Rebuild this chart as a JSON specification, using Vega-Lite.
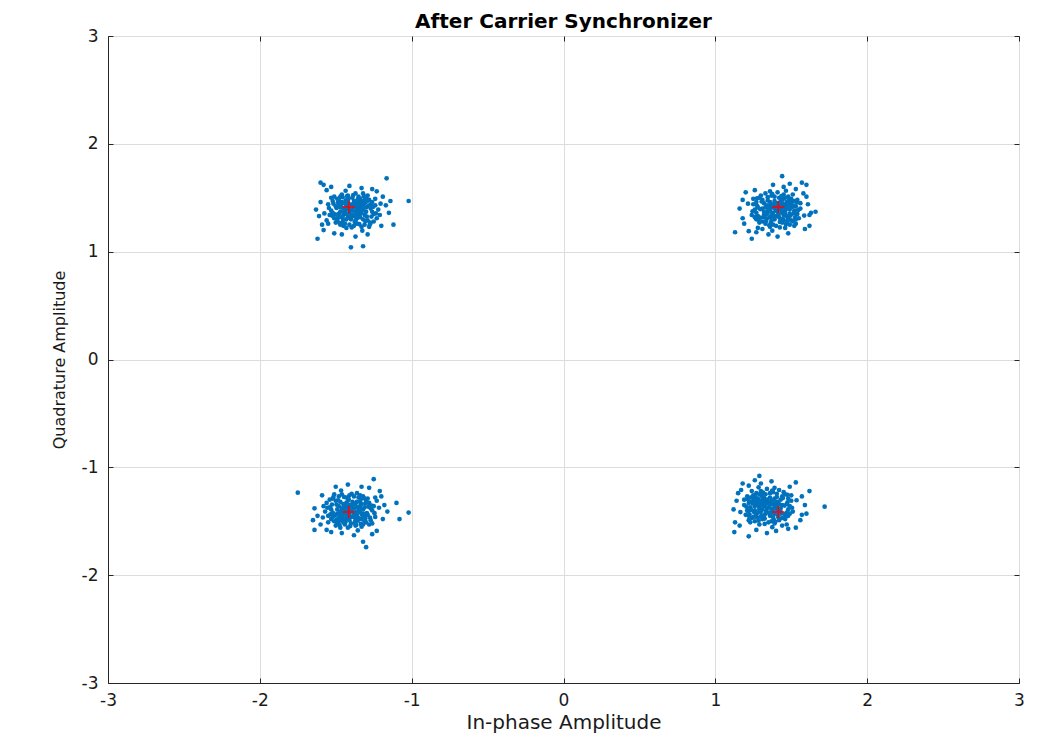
{
  "$schema": "https://vega.github.io/schema/vega-lite/v6.json",
  "width": 911,
  "height": 647,
  "autosize": {"type": "none"},
  "padding": {"left": 108, "top": 36, "right": 40, "bottom": 59},
  "background": "white",
  "title": {"text": "After Carrier Synchronizer", "font": "DejaVu Sans", "fontSize": 20, "fontWeight": "bold", "color": "#000000", "offset": -5, "anchor": "middle"},
  "config": {
    "view": {"stroke": "#262626", "strokeWidth": 1},
    "axis": {"labelFont": "DejaVu Sans", "labelFontSize": 17, "labelColor": "#1a1a1a", "labelFlush": false, "titleFont": "DejaVu Sans", "titleFontWeight": "normal", "titleColor": "#1a1a1a", "gridColor": "#dcdcdc", "gridWidth": 1, "domainColor": "#262626", "tickColor": "#262626", "tickSize": -5}
  },
  "datasets": {
    "pts": [
{"x":-1.39,"y":1.38},{"x":-1.36,"y":1.40},{"x":-1.41,"y":1.42},{"x":-1.34,"y":1.37},{"x":-1.43,"y":1.35},{"x":-1.38,"y":1.33},{"x":-1.33,"y":1.43},{"x":-1.45,"y":1.40},{"x":-1.37,"y":1.45},{"x":-1.40,"y":1.30},
{"x":-1.31,"y":1.34},{"x":-1.46,"y":1.32},{"x":-1.35,"y":1.46},{"x":-1.44,"y":1.45},{"x":-1.32,"y":1.39},{"x":-1.47,"y":1.37},{"x":-1.36,"y":1.31},{"x":-1.42,"y":1.47},{"x":-1.30,"y":1.41},{"x":-1.48,"y":1.43},
{"x":-1.39,"y":1.44},{"x":-1.34,"y":1.32},{"x":-1.43,"y":1.30},{"x":-1.33,"y":1.47},{"x":-1.41,"y":1.36},{"x":-1.38,"y":1.41},{"x":-1.35,"y":1.35},{"x":-1.45,"y":1.34},{"x":-1.31,"y":1.45},{"x":-1.46,"y":1.46},
{"x":-1.37,"y":1.29},{"x":-1.40,"y":1.39},{"x":-1.32,"y":1.30},{"x":-1.44,"y":1.38},{"x":-1.36,"y":1.43},{"x":-1.47,"y":1.41},{"x":-1.39,"y":1.34},{"x":-1.33,"y":1.36},{"x":-1.42,"y":1.32},{"x":-1.30,"y":1.37},
{"x":-1.34,"y":1.41},{"x":-1.43,"y":1.43},{"x":-1.38,"y":1.47},{"x":-1.48,"y":1.35},{"x":-1.37,"y":1.37},{"x":-1.41,"y":1.44},{"x":-1.35,"y":1.39},{"x":-1.45,"y":1.30},{"x":-1.32,"y":1.42},{"x":-1.40,"y":1.33},
{"x":-1.27,"y":1.40},{"x":-1.50,"y":1.42},{"x":-1.29,"y":1.29},{"x":-1.51,"y":1.31},{"x":-1.35,"y":1.51},{"x":-1.44,"y":1.26},{"x":-1.26,"y":1.46},{"x":-1.49,"y":1.49},{"x":-1.31,"y":1.25},{"x":-1.42,"y":1.52},
{"x":-1.25,"y":1.35},{"x":-1.53,"y":1.38},{"x":-1.30,"y":1.50},{"x":-1.47,"y":1.25},{"x":-1.38,"y":1.24},{"x":-1.28,"y":1.48},{"x":-1.52,"y":1.47},{"x":-1.24,"y":1.43},{"x":-1.54,"y":1.34},{"x":-1.33,"y":1.23},
{"x":-1.46,"y":1.53},{"x":-1.27,"y":1.27},{"x":-1.50,"y":1.27},{"x":-1.37,"y":1.54},{"x":-1.23,"y":1.31},{"x":-1.55,"y":1.44},{"x":-1.29,"y":1.52},{"x":-1.43,"y":1.22},{"x":-1.26,"y":1.37},{"x":-1.51,"y":1.51},
{"x":-1.34,"y":1.49},{"x":-1.49,"y":1.29},{"x":-1.22,"y":1.39},{"x":-1.56,"y":1.29},{"x":-1.32,"y":1.54},{"x":-1.41,"y":1.25},{"x":-1.28,"y":1.23},{"x":-1.53,"y":1.50},{"x":-1.24,"y":1.49},{"x":-1.48,"y":1.48},
{"x":-1.39,"y":1.50},{"x":-1.27,"y":1.44},{"x":-1.52,"y":1.36},{"x":-1.31,"y":1.48},{"x":-1.45,"y":1.24},{"x":-1.25,"y":1.28},{"x":-1.47,"y":1.51},{"x":-1.36,"y":1.26},{"x":-1.21,"y":1.34},{"x":-1.55,"y":1.26},
{"x":-1.17,"y":1.43},{"x":-1.60,"y":1.46},{"x":-1.20,"y":1.24},{"x":-1.59,"y":1.25},{"x":-1.33,"y":1.59},{"x":-1.46,"y":1.16},{"x":-1.23,"y":1.56},{"x":-1.56,"y":1.57},{"x":-1.29,"y":1.16},{"x":-1.41,"y":1.61},
{"x":-1.15,"y":1.36},{"x":-1.63,"y":1.39},{"x":-1.19,"y":1.51},{"x":-1.51,"y":1.17},{"x":-1.26,"y":1.58},{"x":-1.61,"y":1.33},{"x":-1.37,"y":1.14},{"x":-1.53,"y":1.60},{"x":-1.14,"y":1.47},{"x":-1.58,"y":1.20},
{"x":-1.375,"y":1.415},{"x":-1.425,"y":1.395},{"x":-1.345,"y":1.335},{"x":-1.445,"y":1.365},{"x":-1.365,"y":1.345},{"x":-1.405,"y":1.315},{"x":-1.325,"y":1.405},{"x":-1.465,"y":1.425},{"x":-1.355,"y":1.485},{"x":-1.435,"y":1.475},
{"x":-1.295,"y":1.325},{"x":-1.485,"y":1.315},{"x":-1.335,"y":1.445},{"x":-1.415,"y":1.495},{"x":-1.285,"y":1.425},{"x":-1.495,"y":1.405},{"x":-1.375,"y":1.275},{"x":-1.455,"y":1.275},{"x":-1.305,"y":1.285},{"x":-1.505,"y":1.345},
{"x":-1.265,"y":1.325},{"x":-1.515,"y":1.445},{"x":-1.345,"y":1.255},{"x":-1.425,"y":1.515},{"x":-1.255,"y":1.415},{"x":-1.525,"y":1.335},{"x":-1.315,"y":1.515},{"x":-1.475,"y":1.265},{"x":-1.235,"y":1.355},{"x":-1.545,"y":1.405},
{"x":-1.385,"y":1.525},{"x":-1.395,"y":1.225},{"x":-1.295,"y":1.465},{"x":-1.485,"y":1.455},{"x":-1.275,"y":1.255},{"x":-1.455,"y":1.505},{"x":-1.205,"y":1.445},{"x":-1.575,"y":1.355},{"x":-1.325,"y":1.195},{"x":-1.435,"y":1.565},
{"x":-1.02,"y":1.47},{"x":-1.165,"y":1.68},{"x":-1.60,"y":1.64},{"x":-1.58,"y":1.62},{"x":-1.32,"y":1.05},{"x":-1.40,"y":1.04},{"x":-1.62,"y":1.12},{"x":-1.12,"y":1.25},

{"x":1.40,"y":1.38},{"x":1.42,"y":1.41},{"x":1.44,"y":1.36},{"x":1.39,"y":1.43},{"x":1.37,"y":1.34},{"x":1.35,"y":1.39},{"x":1.45,"y":1.44},{"x":1.42,"y":1.32},{"x":1.47,"y":1.40},{"x":1.32,"y":1.37},
{"x":1.36,"y":1.46},{"x":1.34,"y":1.31},{"x":1.48,"y":1.42},{"x":1.47,"y":1.33},{"x":1.41,"y":1.45},{"x":1.39,"y":1.30},{"x":1.33,"y":1.41},{"x":1.49,"y":1.35},{"x":1.43,"y":1.47},{"x":1.45,"y":1.29},
{"x":1.46,"y":1.38},{"x":1.34,"y":1.43},{"x":1.32,"y":1.34},{"x":1.49,"y":1.44},{"x":1.38,"y":1.36},{"x":1.43,"y":1.39},{"x":1.37,"y":1.42},{"x":1.36,"y":1.32},{"x":1.47,"y":1.46},{"x":1.48,"y":1.31},
{"x":1.31,"y":1.40},{"x":1.41,"y":1.37},{"x":1.32,"y":1.45},{"x":1.40,"y":1.33},{"x":1.45,"y":1.41},{"x":1.43,"y":1.30},{"x":1.36,"y":1.38},{"x":1.38,"y":1.44},{"x":1.34,"y":1.35},{"x":1.39,"y":1.47},
{"x":1.43,"y":1.43},{"x":1.45,"y":1.34},{"x":1.49,"y":1.39},{"x":1.37,"y":1.29},{"x":1.39,"y":1.40},{"x":1.46,"y":1.36},{"x":1.41,"y":1.42},{"x":1.32,"y":1.32},{"x":1.44,"y":1.45},{"x":1.35,"y":1.37},
{"x":1.42,"y":1.50},{"x":1.44,"y":1.27},{"x":1.31,"y":1.48},{"x":1.33,"y":1.26},{"x":1.53,"y":1.42},{"x":1.28,"y":1.33},{"x":1.48,"y":1.51},{"x":1.51,"y":1.28},{"x":1.27,"y":1.46},{"x":1.54,"y":1.35},
{"x":1.37,"y":1.52},{"x":1.40,"y":1.24},{"x":1.52,"y":1.47},{"x":1.27,"y":1.30},{"x":1.26,"y":1.39},{"x":1.50,"y":1.49},{"x":1.49,"y":1.25},{"x":1.45,"y":1.53},{"x":1.36,"y":1.23},{"x":1.25,"y":1.44},
{"x":1.55,"y":1.31},{"x":1.29,"y":1.50},{"x":1.29,"y":1.27},{"x":1.56,"y":1.40},{"x":1.33,"y":1.54},{"x":1.46,"y":1.22},{"x":1.54,"y":1.48},{"x":1.24,"y":1.34},{"x":1.39,"y":1.51},{"x":1.53,"y":1.26},
{"x":1.51,"y":1.43},{"x":1.31,"y":1.28},{"x":1.41,"y":1.55},{"x":1.31,"y":1.21},{"x":1.56,"y":1.45},{"x":1.27,"y":1.36},{"x":1.25,"y":1.49},{"x":1.52,"y":1.24},{"x":1.51,"y":1.53},{"x":1.50,"y":1.29},
{"x":1.52,"y":1.38},{"x":1.46,"y":1.50},{"x":1.38,"y":1.25},{"x":1.50,"y":1.46},{"x":1.26,"y":1.32},{"x":1.30,"y":1.52},{"x":1.53,"y":1.30},{"x":1.28,"y":1.41},{"x":1.36,"y":1.56},{"x":1.28,"y":1.22},
{"x":1.45,"y":1.60},{"x":1.48,"y":1.17},{"x":1.26,"y":1.57},{"x":1.27,"y":1.18},{"x":1.61,"y":1.44},{"x":1.18,"y":1.31},{"x":1.58,"y":1.54},{"x":1.59,"y":1.21},{"x":1.18,"y":1.48},{"x":1.63,"y":1.36},
{"x":1.38,"y":1.62},{"x":1.41,"y":1.14},{"x":1.53,"y":1.58},{"x":1.19,"y":1.26},{"x":1.60,"y":1.51},{"x":1.35,"y":1.16},{"x":1.16,"y":1.40},{"x":1.62,"y":1.24},{"x":1.49,"y":1.63},{"x":1.22,"y":1.19},
{"x":1.435,"y":1.395},{"x":1.415,"y":1.345},{"x":1.355,"y":1.425},{"x":1.385,"y":1.325},{"x":1.365,"y":1.405},{"x":1.335,"y":1.365},{"x":1.425,"y":1.445},{"x":1.445,"y":1.305},{"x":1.505,"y":1.415},{"x":1.495,"y":1.335},
{"x":1.345,"y":1.475},{"x":1.335,"y":1.285},{"x":1.465,"y":1.435},{"x":1.515,"y":1.355},{"x":1.445,"y":1.485},{"x":1.425,"y":1.275},{"x":1.295,"y":1.395},{"x":1.295,"y":1.315},{"x":1.305,"y":1.465},{"x":1.365,"y":1.265},
{"x":1.345,"y":1.505},{"x":1.465,"y":1.255},{"x":1.275,"y":1.425},{"x":1.535,"y":1.345},{"x":1.435,"y":1.515},{"x":1.355,"y":1.245},{"x":1.535,"y":1.455},{"x":1.285,"y":1.295},{"x":1.375,"y":1.535},{"x":1.425,"y":1.225},
{"x":1.545,"y":1.385},{"x":1.245,"y":1.375},{"x":1.485,"y":1.475},{"x":1.475,"y":1.285},{"x":1.275,"y":1.495},{"x":1.525,"y":1.315},{"x":1.465,"y":1.565},{"x":1.375,"y":1.195},{"x":1.215,"y":1.445},{"x":1.585,"y":1.335},
{"x":1.13,"y":1.18},{"x":1.44,"y":1.70},{"x":1.62,"y":1.34},{"x":1.24,"y":1.12},{"x":1.60,"y":1.62},{"x":1.57,"y":1.64},{"x":1.66,"y":1.37},{"x":1.20,"y":1.55},

{"x":-1.40,"y":-1.40},{"x":-1.43,"y":-1.42},{"x":-1.38,"y":-1.44},{"x":-1.45,"y":-1.39},{"x":-1.36,"y":-1.37},{"x":-1.41,"y":-1.35},{"x":-1.46,"y":-1.45},{"x":-1.34,"y":-1.42},{"x":-1.42,"y":-1.47},{"x":-1.39,"y":-1.32},
{"x":-1.48,"y":-1.36},{"x":-1.33,"y":-1.34},{"x":-1.44,"y":-1.48},{"x":-1.35,"y":-1.47},{"x":-1.47,"y":-1.41},{"x":-1.32,"y":-1.39},{"x":-1.43,"y":-1.33},{"x":-1.37,"y":-1.49},{"x":-1.49,"y":-1.43},{"x":-1.31,"y":-1.45},
{"x":-1.40,"y":-1.46},{"x":-1.45,"y":-1.34},{"x":-1.36,"y":-1.32},{"x":-1.46,"y":-1.49},{"x":-1.38,"y":-1.38},{"x":-1.41,"y":-1.43},{"x":-1.44,"y":-1.37},{"x":-1.34,"y":-1.36},{"x":-1.48,"y":-1.47},{"x":-1.33,"y":-1.48},
{"x":-1.42,"y":-1.31},{"x":-1.39,"y":-1.41},{"x":-1.47,"y":-1.32},{"x":-1.35,"y":-1.40},{"x":-1.43,"y":-1.45},{"x":-1.32,"y":-1.43},{"x":-1.40,"y":-1.36},{"x":-1.46,"y":-1.38},{"x":-1.37,"y":-1.34},{"x":-1.49,"y":-1.39},
{"x":-1.45,"y":-1.43},{"x":-1.36,"y":-1.45},{"x":-1.41,"y":-1.49},{"x":-1.31,"y":-1.37},{"x":-1.42,"y":-1.39},{"x":-1.38,"y":-1.46},{"x":-1.44,"y":-1.41},{"x":-1.34,"y":-1.32},{"x":-1.47,"y":-1.44},{"x":-1.39,"y":-1.35},
{"x":-1.52,"y":-1.42},{"x":-1.29,"y":-1.44},{"x":-1.50,"y":-1.31},{"x":-1.28,"y":-1.33},{"x":-1.44,"y":-1.53},{"x":-1.35,"y":-1.28},{"x":-1.53,"y":-1.48},{"x":-1.30,"y":-1.51},{"x":-1.48,"y":-1.27},{"x":-1.37,"y":-1.54},
{"x":-1.54,"y":-1.37},{"x":-1.26,"y":-1.40},{"x":-1.49,"y":-1.52},{"x":-1.32,"y":-1.27},{"x":-1.41,"y":-1.26},{"x":-1.51,"y":-1.50},{"x":-1.27,"y":-1.49},{"x":-1.55,"y":-1.45},{"x":-1.25,"y":-1.36},{"x":-1.46,"y":-1.25},
{"x":-1.33,"y":-1.55},{"x":-1.52,"y":-1.29},{"x":-1.29,"y":-1.29},{"x":-1.42,"y":-1.56},{"x":-1.56,"y":-1.33},{"x":-1.24,"y":-1.46},{"x":-1.50,"y":-1.54},{"x":-1.36,"y":-1.24},{"x":-1.53,"y":-1.39},{"x":-1.28,"y":-1.53},
{"x":-1.45,"y":-1.51},{"x":-1.30,"y":-1.31},{"x":-1.57,"y":-1.41},{"x":-1.23,"y":-1.31},{"x":-1.47,"y":-1.56},{"x":-1.38,"y":-1.27},{"x":-1.51,"y":-1.25},{"x":-1.26,"y":-1.52},{"x":-1.55,"y":-1.51},{"x":-1.31,"y":-1.50},
{"x":-1.40,"y":-1.52},{"x":-1.52,"y":-1.46},{"x":-1.27,"y":-1.38},{"x":-1.48,"y":-1.50},{"x":-1.34,"y":-1.26},{"x":-1.54,"y":-1.30},{"x":-1.32,"y":-1.53},{"x":-1.43,"y":-1.28},{"x":-1.58,"y":-1.36},{"x":-1.24,"y":-1.28},
{"x":-1.62,"y":-1.45},{"x":-1.19,"y":-1.48},{"x":-1.59,"y":-1.26},{"x":-1.20,"y":-1.27},{"x":-1.46,"y":-1.61},{"x":-1.33,"y":-1.18},{"x":-1.56,"y":-1.58},{"x":-1.23,"y":-1.59},{"x":-1.50,"y":-1.18},{"x":-1.38,"y":-1.63},
{"x":-1.64,"y":-1.38},{"x":-1.16,"y":-1.41},{"x":-1.60,"y":-1.53},{"x":-1.28,"y":-1.19},{"x":-1.53,"y":-1.60},{"x":-1.18,"y":-1.35},{"x":-1.42,"y":-1.16},{"x":-1.26,"y":-1.62},{"x":-1.65,"y":-1.49},{"x":-1.21,"y":-1.22},
{"x":-1.415,"y":-1.435},{"x":-1.365,"y":-1.415},{"x":-1.445,"y":-1.355},{"x":-1.345,"y":-1.385},{"x":-1.425,"y":-1.365},{"x":-1.385,"y":-1.335},{"x":-1.465,"y":-1.425},{"x":-1.325,"y":-1.445},{"x":-1.435,"y":-1.505},{"x":-1.355,"y":-1.495},
{"x":-1.495,"y":-1.345},{"x":-1.305,"y":-1.335},{"x":-1.455,"y":-1.465},{"x":-1.375,"y":-1.515},{"x":-1.505,"y":-1.445},{"x":-1.295,"y":-1.425},{"x":-1.415,"y":-1.295},{"x":-1.335,"y":-1.295},{"x":-1.485,"y":-1.305},{"x":-1.285,"y":-1.365},
{"x":-1.525,"y":-1.345},{"x":-1.275,"y":-1.465},{"x":-1.445,"y":-1.275},{"x":-1.365,"y":-1.535},{"x":-1.535,"y":-1.435},{"x":-1.265,"y":-1.355},{"x":-1.475,"y":-1.535},{"x":-1.315,"y":-1.285},{"x":-1.555,"y":-1.375},{"x":-1.245,"y":-1.425},
{"x":-1.405,"y":-1.545},{"x":-1.395,"y":-1.245},{"x":-1.495,"y":-1.485},{"x":-1.305,"y":-1.475},{"x":-1.515,"y":-1.275},{"x":-1.335,"y":-1.525},{"x":-1.585,"y":-1.465},{"x":-1.215,"y":-1.375},{"x":-1.465,"y":-1.215},{"x":-1.355,"y":-1.585},
{"x":-1.75,"y":-1.235},{"x":-1.02,"y":-1.42},{"x":-1.30,"y":-1.74},{"x":-1.25,"y":-1.11},{"x":-1.10,"y":-1.33},{"x":-1.64,"y":-1.58},{"x":-1.08,"y":-1.48},{"x":-1.32,"y":-1.69},

{"x":1.35,"y":-1.37},{"x":1.33,"y":-1.34},{"x":1.31,"y":-1.39},{"x":1.36,"y":-1.32},{"x":1.38,"y":-1.41},{"x":1.40,"y":-1.36},{"x":1.30,"y":-1.31},{"x":1.33,"y":-1.43},{"x":1.28,"y":-1.35},{"x":1.43,"y":-1.38},
{"x":1.39,"y":-1.29},{"x":1.41,"y":-1.44},{"x":1.27,"y":-1.33},{"x":1.28,"y":-1.42},{"x":1.34,"y":-1.30},{"x":1.36,"y":-1.45},{"x":1.42,"y":-1.34},{"x":1.26,"y":-1.40},{"x":1.32,"y":-1.28},{"x":1.30,"y":-1.46},
{"x":1.29,"y":-1.37},{"x":1.41,"y":-1.32},{"x":1.43,"y":-1.41},{"x":1.26,"y":-1.31},{"x":1.37,"y":-1.39},{"x":1.32,"y":-1.36},{"x":1.38,"y":-1.33},{"x":1.39,"y":-1.43},{"x":1.28,"y":-1.29},{"x":1.27,"y":-1.44},
{"x":1.44,"y":-1.35},{"x":1.34,"y":-1.38},{"x":1.43,"y":-1.30},{"x":1.35,"y":-1.42},{"x":1.30,"y":-1.34},{"x":1.32,"y":-1.45},{"x":1.39,"y":-1.37},{"x":1.37,"y":-1.31},{"x":1.41,"y":-1.40},{"x":1.36,"y":-1.28},
{"x":1.32,"y":-1.32},{"x":1.30,"y":-1.41},{"x":1.26,"y":-1.36},{"x":1.38,"y":-1.46},{"x":1.36,"y":-1.35},{"x":1.29,"y":-1.39},{"x":1.34,"y":-1.33},{"x":1.43,"y":-1.43},{"x":1.31,"y":-1.30},{"x":1.40,"y":-1.38},
{"x":1.33,"y":-1.25},{"x":1.31,"y":-1.48},{"x":1.44,"y":-1.27},{"x":1.42,"y":-1.49},{"x":1.22,"y":-1.33},{"x":1.47,"y":-1.42},{"x":1.27,"y":-1.24},{"x":1.24,"y":-1.47},{"x":1.48,"y":-1.29},{"x":1.21,"y":-1.40},
{"x":1.38,"y":-1.23},{"x":1.35,"y":-1.51},{"x":1.23,"y":-1.28},{"x":1.48,"y":-1.45},{"x":1.49,"y":-1.36},{"x":1.25,"y":-1.26},{"x":1.26,"y":-1.50},{"x":1.30,"y":-1.22},{"x":1.39,"y":-1.52},{"x":1.50,"y":-1.31},
{"x":1.20,"y":-1.44},{"x":1.46,"y":-1.25},{"x":1.46,"y":-1.48},{"x":1.19,"y":-1.35},{"x":1.42,"y":-1.21},{"x":1.29,"y":-1.53},{"x":1.21,"y":-1.27},{"x":1.51,"y":-1.41},{"x":1.36,"y":-1.24},{"x":1.22,"y":-1.49},
{"x":1.24,"y":-1.32},{"x":1.44,"y":-1.47},{"x":1.34,"y":-1.20},{"x":1.44,"y":-1.54},{"x":1.19,"y":-1.30},{"x":1.48,"y":-1.39},{"x":1.50,"y":-1.26},{"x":1.23,"y":-1.51},{"x":1.24,"y":-1.22},{"x":1.25,"y":-1.46},
{"x":1.23,"y":-1.37},{"x":1.29,"y":-1.25},{"x":1.37,"y":-1.50},{"x":1.25,"y":-1.29},{"x":1.49,"y":-1.43},{"x":1.45,"y":-1.23},{"x":1.22,"y":-1.45},{"x":1.47,"y":-1.34},{"x":1.39,"y":-1.19},{"x":1.47,"y":-1.53},
{"x":1.30,"y":-1.15},{"x":1.27,"y":-1.58},{"x":1.49,"y":-1.18},{"x":1.48,"y":-1.57},{"x":1.14,"y":-1.31},{"x":1.57,"y":-1.44},{"x":1.17,"y":-1.21},{"x":1.16,"y":-1.54},{"x":1.57,"y":-1.27},{"x":1.12,"y":-1.39},
{"x":1.37,"y":-1.13},{"x":1.34,"y":-1.61},{"x":1.22,"y":-1.17},{"x":1.56,"y":-1.49},{"x":1.15,"y":-1.24},{"x":1.40,"y":-1.59},{"x":1.59,"y":-1.35},{"x":1.13,"y":-1.51},{"x":1.26,"y":-1.12},{"x":1.53,"y":-1.56},
{"x":1.315,"y":-1.355},{"x":1.335,"y":-1.405},{"x":1.395,"y":-1.325},{"x":1.365,"y":-1.425},{"x":1.385,"y":-1.345},{"x":1.415,"y":-1.385},{"x":1.325,"y":-1.305},{"x":1.305,"y":-1.445},{"x":1.245,"y":-1.335},{"x":1.255,"y":-1.415},
{"x":1.405,"y":-1.275},{"x":1.415,"y":-1.465},{"x":1.285,"y":-1.315},{"x":1.235,"y":-1.395},{"x":1.305,"y":-1.265},{"x":1.325,"y":-1.475},{"x":1.455,"y":-1.355},{"x":1.455,"y":-1.435},{"x":1.445,"y":-1.285},{"x":1.385,"y":-1.485},
{"x":1.405,"y":-1.245},{"x":1.285,"y":-1.495},{"x":1.475,"y":-1.325},{"x":1.215,"y":-1.405},{"x":1.315,"y":-1.235},{"x":1.395,"y":-1.505},{"x":1.215,"y":-1.295},{"x":1.465,"y":-1.455},{"x":1.375,"y":-1.215},{"x":1.325,"y":-1.525},
{"x":1.205,"y":-1.365},{"x":1.505,"y":-1.375},{"x":1.265,"y":-1.275},{"x":1.275,"y":-1.465},{"x":1.475,"y":-1.255},{"x":1.225,"y":-1.435},{"x":1.285,"y":-1.185},{"x":1.375,"y":-1.555},{"x":1.535,"y":-1.305},{"x":1.165,"y":-1.415},
{"x":1.72,"y":-1.365},{"x":1.125,"y":-1.60},{"x":1.29,"y":-1.08},{"x":1.22,"y":-1.64},{"x":1.60,"y":-1.43},{"x":1.62,"y":-1.22},{"x":1.53,"y":-1.14},{"x":1.18,"y":-1.15}
    ],
    "ref": [
      {"x": -1.4142, "y": 1.4142}, {"x": 1.4142, "y": 1.4142}, {"x": -1.4142, "y": -1.4142}, {"x": 1.4142, "y": -1.4142}
    ]
  },
  "layer": [
    {
      "data": {"name": "pts"},
      "mark": {"type": "circle", "size": 22, "color": "#0072BD", "opacity": 1},
      "encoding": {
        "x": {"field": "x", "type": "quantitative", "scale": {"domain": [-3, 3], "nice": false, "zero": false},
          "axis": {"orient": "bottom", "values": [-3, -2, -1, 0, 1, 2, 3], "title": "In-phase Amplitude", "titleFontSize": 20, "titlePadding": 4, "labelPadding": 14, "labelExpr": "'' + datum.value", "grid": true}},
        "y": {"field": "y", "type": "quantitative", "scale": {"domain": [-3, 3], "nice": false, "zero": false},
          "axis": {"orient": "left", "values": [-3, -2, -1, 0, 1, 2, 3], "title": "Quadrature Amplitude", "titleFontSize": 16, "titlePadding": 14, "labelPadding": 15, "labelExpr": "'' + datum.value", "grid": true}}
      }
    },
    {
      "data": {"name": "ref"},
      "mark": {"type": "point", "shape": "M-1,0L1,0M0,-1L0,1", "size": 144, "stroke": "#ff0000", "strokeWidth": 1.5, "filled": false, "opacity": 1},
      "encoding": {
        "x": {"field": "x", "type": "quantitative", "scale": {"domain": [-3, 3], "nice": false, "zero": false},
          "axis": {"orient": "top", "values": [-3, -2, -1, 0, 1, 2, 3], "labels": false, "title": null, "grid": false, "domain": false}},
        "y": {"field": "y", "type": "quantitative", "scale": {"domain": [-3, 3], "nice": false, "zero": false},
          "axis": {"orient": "right", "values": [-3, -2, -1, 0, 1, 2, 3], "labels": false, "title": null, "grid": false, "domain": false}}
      }
    }
  ],
  "resolve": {"axis": {"x": "independent", "y": "independent"}}
}
